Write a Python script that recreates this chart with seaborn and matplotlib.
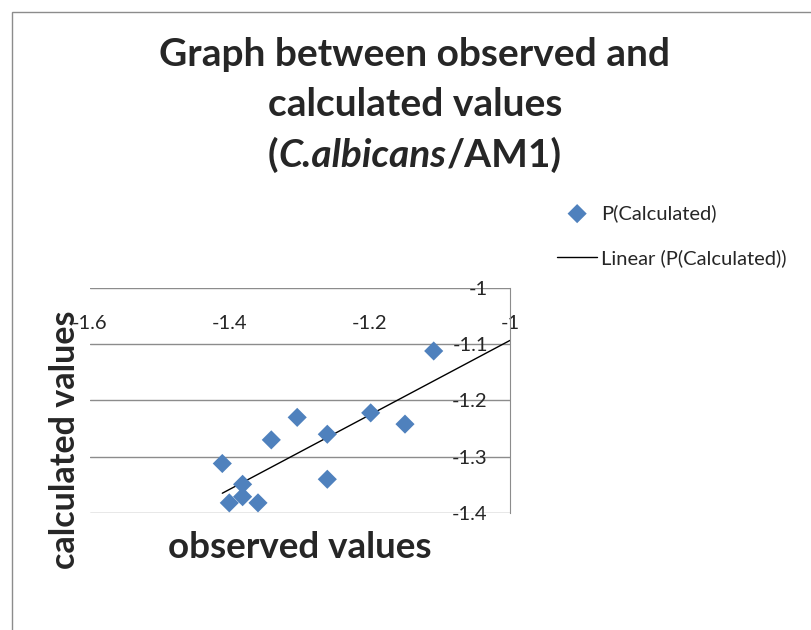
import numpy as np
import matplotlib.pyplot as plt
import seaborn as sns
from matplotlib.patches import Rectangle

# values
observed = [-1.411, -1.401, -1.382, -1.382, -1.360, -1.341, -1.304,
            -1.261, -1.261, -1.199, -1.150, -1.109]
calculated = [-1.312, -1.382, -1.349, -1.371, -1.382, -1.270, -1.230,
              -1.260, -1.340, -1.222, -1.242, -1.112]

x_ticks = [-1.6, -1.4, -1.2, -1.0]
x_tick_labels = ["-1.6", "-1.4", "-1.2", "-1"]
y_ticks = [-1.0, -1.1, -1.2, -1.3, -1.4]
y_tick_labels = ["-1", "-1.1", "-1.2", "-1.3", "-1.4"]

sns.set_style("white")
plt.rcParams['font.family'] = ['Lato', 'DejaVu Sans']

W, H = 812, 630
fig = plt.figure(figsize=(W / 100, H / 100), dpi=100)
ax = fig.add_axes([90 / W, 1 - 513 / H, 420 / W, 225 / H])

blue = "#4F81BD"
grey = "#8c8c8c"

sns.scatterplot(x=observed, y=calculated, marker="D", s=95, color=blue,
                edgecolor="none", label="P(Calculated)", ax=ax, zorder=3)

slope, intercept = np.polyfit(observed, calculated, 1)
trend_x = np.array([min(observed), -1.0])
sns.lineplot(x=trend_x, y=slope * trend_x + intercept, color="black",
             linewidth=1, label="Linear (P(Calculated))", ax=ax)

ax.set_xlim(-1.6, -1.0)
ax.set_ylim(-1.4, -1.0)

ax.xaxis.set_ticks_position("top")
ax.set_xticks(x_ticks, x_tick_labels)
ax.tick_params(axis="x", length=0, pad=-32, labelsize=14.5)

ax.yaxis.tick_right()
ax.set_yticks(y_ticks, y_tick_labels, ha="right")
ax.tick_params(axis="y", length=0, pad=-16, labelsize=14.5)

ax.yaxis.grid(True, color=grey, linewidth=1)
ax.xaxis.grid(False)
for side in ["left", "bottom", "top"]:
    ax.spines[side].set_visible(False)
ax.spines["right"].set_color(grey)

ax.xaxis.set_label_position("bottom")
ax.set_xlabel("observed values", fontsize=26.5, fontweight="bold", va="center")
ax.xaxis.set_label_coords(0.5, -0.152)
ax.yaxis.set_label_position("left")
ax.set_ylabel("calculated values", fontsize=24.5, fontweight="bold", va="center")
ax.yaxis.set_label_coords(-0.06, 0.324)

ax.legend(loc="upper left", bbox_to_anchor=(557 / W, 1 - 204 / H),
          bbox_transform=fig.transFigure, frameon=False, fontsize=14.5,
          handlelength=2.0, handletextpad=0.2, labelspacing=1.35,
          borderpad=0, borderaxespad=0)

# title, three lines like the original
title_size = 28
fig.text(415 / W, 1 - 55 / H, "Graph between observed and", ha="center",
         va="center", fontsize=title_size, fontweight="bold")
fig.text(415 / W, 1 - 105 / H, "calculated values", ha="center",
         va="center", fontsize=title_size, fontweight="bold")
part = fig.text(268 / W, 1 - 155 / H, "(", ha="left", va="center",
                fontsize=title_size, fontweight="bold")
part = ax.annotate("C.albicans", xy=(1, 0), xycoords=part, ha="left",
                   va="bottom", fontsize=title_size, fontweight="bold",
                   fontstyle="italic", annotation_clip=False)
part = ax.annotate("/AM1)", xy=(1, 0), xycoords=part, ha="left",
                   va="bottom", fontsize=title_size, fontweight="bold",
                   annotation_clip=False)

# chart area border
fig.patches.append(Rectangle((12 / W, -0.1), 1.0, 1 - 12 / H + 0.1,
                             transform=fig.transFigure, fill=False,
                             edgecolor=grey, linewidth=1))

fig.savefig("out.png", dpi=100)
